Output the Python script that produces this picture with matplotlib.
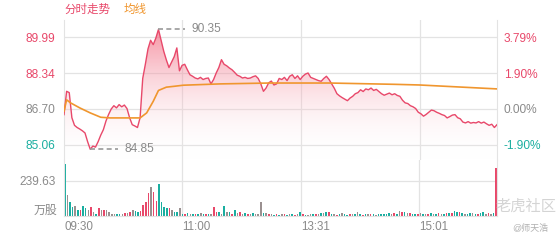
import numpy as np
import matplotlib.pyplot as plt
from matplotlib.colors import LinearSegmentedColormap

plt.rcParams['font.family'] = ['Liberation Sans', 'Noto Sans CJK SC', 'DejaVu Sans']

# minutes since 09:30 (HK session, lunch break removed), one point every 2 minutes
price = [86.44, 87.51, 87.45, 86.30, 85.95, 85.85, 85.78, 85.70, 85.60, 85.20,
         84.85, 85.00, 84.95, 85.20, 85.50, 85.75, 86.15, 86.45, 86.70, 86.85,
         86.75, 86.90, 86.80, 86.88, 86.72, 86.30, 85.98, 85.92, 85.85, 86.30,
         88.10, 88.75, 89.45, 89.85, 89.65, 89.95, 90.35, 89.85, 89.35, 88.95,
         88.60, 88.85, 89.10, 89.50, 88.45, 88.70, 88.75, 88.50, 88.27, 88.20,
         88.12, 88.08, 88.15, 88.05, 88.10, 88.12, 87.85, 88.05, 88.35, 88.60,
         88.96, 88.75, 88.68, 88.58, 88.50, 88.38, 88.25, 88.20, 88.12, 88.15,
         88.10, 88.12, 88.18, 88.22, 88.10, 87.85, 87.51, 87.66, 87.90, 87.98,
         87.80, 87.85, 88.10, 88.05, 88.15, 88.00, 88.20, 88.27, 88.10, 88.22,
         88.05, 88.20, 88.30, 88.35, 88.15, 88.10, 88.05, 88.00, 87.97, 88.10,
         88.20, 88.05, 87.85, 87.65, 87.40, 87.30, 87.22, 87.15, 87.08, 87.20,
         87.28, 87.40, 87.45, 87.58, 87.50, 87.62, 87.58, 87.66, 87.55, 87.60,
         87.50, 87.40, 87.33, 87.38, 87.43, 87.35, 87.40, 87.32, 87.28, 87.10,
         86.98, 86.95, 86.85, 86.80, 86.72, 86.55, 86.48, 86.37, 86.45, 86.55,
         86.65, 86.62, 86.55, 86.50, 86.44, 86.40, 86.29, 86.35, 86.42, 86.44,
         86.30, 86.25, 86.10, 86.06, 86.12, 86.05, 86.08, 86.06, 86.12, 86.05,
         86.10, 86.02, 85.95, 86.00, 85.85, 85.98]

avg_t = [0, 2, 5, 12, 20, 28, 35, 45, 58, 63, 68, 72, 78, 84, 91, 119, 157, 180, 202, 252, 271, 330]
avg_p = [86.60, 87.12, 86.98, 86.75, 86.52, 86.32, 86.29, 86.29, 86.29, 86.52, 87.05,
         87.55, 87.70, 87.74, 87.79, 87.85, 87.89, 87.89, 87.89, 87.83, 87.80, 87.62]

vol = [354, 142, 95, 62, 65, 39, 39, 65, 50, 39,
       62, 28, 15, 50, 40, 40, 40, 28, 14, 12,
       10, 14, 12, 16, 20, 28, 39, 33, 28, 33,
       70, 96, 153, 199, 164, 100, 217, 96, 62, 50,
       55, 40, 28, 28, 51, 14, 12, 16, 10, 12,
       14, 10, 16, 12, 14, 10, 12, 62, 28, 28,
       12, 69, 28, 28, 12, 39, 20, 28, 10, 20,
       10, 12, 16, 10, 12, 96, 20, 16, 12, 10,
       8, 12, 6, 10, 14, 8, 12, 9, 7, 10,
       24, 12, 8, 6, 10, 14, 9, 12, 16, 20,
       22, 26, 14, 10, 8, 12, 18, 10, 8, 12,
       14, 10, 26, 12, 8, 10, 14, 9, 12, 8,
       10, 14, 12, 9, 20, 12, 18, 10, 30, 28,
       24, 20, 16, 14, 12, 10, 18, 12, 10, 14,
       16, 12, 10, 18, 12, 14, 20, 16, 18, 30,
       26, 22, 18, 14, 12, 20, 16, 14, 12, 18,
       22, 14, 18, 12, 16, 326]
# u = up (red), d = down (teal), f = flat (grey)
vol_dir = ("dfddfdudd" "fufdufufff"
           "fddfufufdd" "uuuufuuddd"
           "dufdd" "fdudfdudfdudfu"
           "udfdfdudfufdufdfffdfu"
           "fdudfudfdufdudffdufdfd"
           "udfudfddufdfdudfudfd"
           "ddddfudfudfuddufdfud"
           "fdufdududdu")

ticks_t = [0, 90, 181, 271]
ticks_lbl = ["09:30", "11:00", "13:31", "15:01"]
price_lvls = [89.99, 88.34, 86.70, 85.06]
pct_lbls = ["3.79%", "1.90%", "0.00%", "-1.90%"]
vol_lvl = 239.63

red = "#e8486a"
teal = "#1aaea0"
grey_txt = "#8a8a8a"
orange = "#f0962e"
gridc = "#e3e3e3"

t = np.arange(len(price)) * 2
tv = np.arange(len(vol)) * 2

fig = plt.figure(figsize=(5.6, 2.4), dpi=100)
ax = fig.add_axes([64 / 560, 1 - 160 / 240, 433 / 560, 140 / 240])
axv = fig.add_axes([64 / 560, 1 - 215.7 / 240, 433 / 560, 55.7 / 240])

ylo, yhi = 84.36, 90.78
ax.set_xlim(0, 330)
ax.set_ylim(ylo, yhi)

# gradient area under the price line
cmap = LinearSegmentedColormap.from_list("g", [(1, 1, 1, 0), (0.94, 0.33, 0.43, 0.72)])
grad = np.linspace(0, 1, 256).reshape(-1, 1)
im = ax.imshow(grad, extent=[0, 330, ylo, yhi], origin="lower", aspect="auto", cmap=cmap, zorder=1)
poly = ax.fill_between(t, price, ylo, color="none", lw=0)
im.set_clip_path(poly.get_paths()[0], transform=ax.transData)

ax.plot(t, price, color=red, lw=1.0, zorder=3)
ax.plot(avg_t, avg_p, color=orange, lw=1.2, zorder=3)

for y in price_lvls:
    ax.axhline(y, color=gridc, lw=0.9, zorder=0)
for x in ticks_t[1:]:
    ax.axvline(x, color=gridc, lw=0.9, zorder=0)
    axv.axvline(x, color=gridc, lw=0.9, zorder=0)

for s in ["top", "bottom"]:
    ax.spines[s].set_visible(False)
for s in ["left", "right"]:
    ax.spines[s].set_color(gridc)
ax.set_xticks([])
ax.set_yticks(price_lvls)
ax.set_yticklabels([f"{v:.2f}" for v in price_lvls], fontsize=8.6)
lcols = [red, red, grey_txt, teal]
for lbl, c in zip(ax.get_yticklabels(), lcols):
    lbl.set_color(c)
ax.tick_params(axis="y", length=0, pad=6)

axr = ax.twinx()
axr.set_ylim(ylo, yhi)
axr.set_yticks(price_lvls)
axr.set_yticklabels(pct_lbls, fontsize=8.6)
for lbl, c in zip(axr.get_yticklabels(), lcols):
    lbl.set_color(c)
axr.tick_params(axis="y", length=0, pad=5)
for s in axr.spines.values():
    s.set_visible(False)

# high / low markers
ih, il = int(np.argmax(price)), int(np.argmin(price))
ax.plot([t[ih], t[ih] + 20], [price[ih]] * 2, ls=(0, (3, 2)), color="#999999", lw=1.2, zorder=4)
ax.text(t[ih] + 25, price[ih], f"{price[ih]:.2f}", color=grey_txt, fontsize=8.6, va="center")
ax.plot([t[il], t[il] + 21], [price[il]] * 2, ls=(0, (3, 2)), color="#999999", lw=1.2, zorder=4)
ax.text(t[il] + 26, price[il], f"{price[il]:.2f}", color=grey_txt, fontsize=8.6, va="center")

# volume
cmapd = {"u": red, "d": teal, "f": "#9a9090"}
bar_cols = [cmapd[c] for c in vol_dir[:len(vol)]]
axv.bar(tv, vol, width=1.2, color=bar_cols, zorder=2)
axv.set_xlim(-0.6, 330.6)
axv.set_ylim(0, 381)
axv.axhline(vol_lvl, color=gridc, lw=0.9, zorder=0)
for s in ["top"]:
    axv.spines[s].set_visible(False)
for s in ["left", "right", "bottom"]:
    axv.spines[s].set_color(gridc)
axv.set_yticks([vol_lvl])
axv.set_yticklabels([f"{vol_lvl:.2f}"], fontsize=8.6, color=grey_txt)
axv.tick_params(axis="y", length=0, pad=6)
axv.set_xticks(ticks_t)
axv.set_xticklabels(ticks_lbl, fontsize=8.4, color=grey_txt, ha="left")
axv.tick_params(axis="x", length=0, pad=4)

fig.text(57 / 560, 1 - 211 / 240, "万股", fontsize=8.6, color=grey_txt, ha="right", va="center")
fig.text(64 / 560, 1 - 10 / 240, "分时走势", fontsize=8.3, color=red, va="center")
fig.text(124 / 560, 1 - 10 / 240, "均线", fontsize=8.3, color=orange, va="center")

# watermark
fig.text(495 / 560, 1 - 207 / 240, "老虎社区", fontsize=11, color="#d4d4d4", va="center")
fig.text(512 / 560, 1 - 228 / 240, "@师天浩", fontsize=6.5, color="#b0b0b0", va="center")

fig.savefig("out.png", dpi=100)
